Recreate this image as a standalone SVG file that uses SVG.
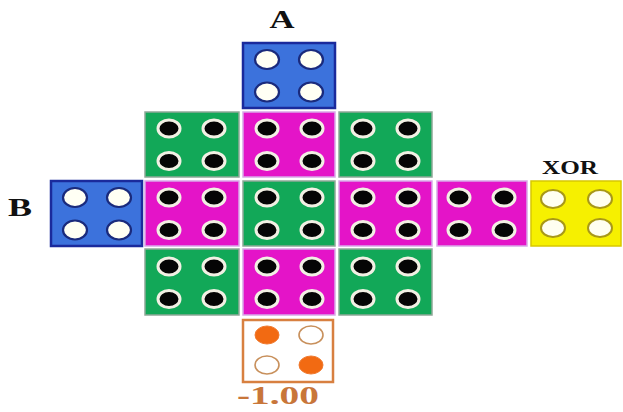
<svg xmlns="http://www.w3.org/2000/svg" xmlns:xlink="http://www.w3.org/1999/xlink" width="623" height="412" viewBox="0 0 623 412">
<style>
.green{fill:#12a858;stroke:#8fa898;stroke-width:1.5}
.mag{fill:#e414c8;stroke:#d8a8e8;stroke-width:1.5}
.blue{fill:#3c72dc;stroke:#1a2a9c;stroke-width:2.5}
.yellow{fill:#f6f000;stroke:#d8c800;stroke-width:1.5}
.orange{fill:#ffffff;stroke:#d88040;stroke-width:2.5}
.bd{fill:#050505;stroke:#f2f0e4;stroke-width:3}
.wd{fill:#fffff4;stroke:#1a2a7c;stroke-width:2.2}
.yd{fill:#fffff0;stroke:#a89818;stroke-width:2}
.of{fill:#f26a12;stroke:#f07a30;stroke-width:1}
.oo{fill:#ffffff;stroke:#c8905c;stroke-width:1.6}
.lbl{font-family:"Liberation Serif",serif;font-weight:bold;fill:#111}
</style>
<defs>
<g id="dots-black">
<ellipse class="bd" cx="24" cy="16.5" rx="11" ry="8.5"/>
<ellipse class="bd" cx="69" cy="16.5" rx="11" ry="8.5"/>
<ellipse class="bd" cx="24" cy="49" rx="11" ry="8.5"/>
<ellipse class="bd" cx="69" cy="49" rx="11" ry="8.5"/>
</g>
<g id="dots-white">
<ellipse class="wd" cx="24" cy="16.5" rx="12" ry="9.5"/>
<ellipse class="wd" cx="68" cy="16.5" rx="12" ry="9.5"/>
<ellipse class="wd" cx="24" cy="49" rx="12" ry="9.5"/>
<ellipse class="wd" cx="68" cy="49" rx="12" ry="9.5"/>
</g>
</defs>
<rect width="623" height="412" fill="#ffffff"/>

<g id="label-A"><text class="lbl" x="282" y="28" font-size="26" text-anchor="middle" textLength="25" lengthAdjust="spacingAndGlyphs">A</text></g>
<g id="label-B"><text class="lbl" x="20" y="216" font-size="26" text-anchor="middle" textLength="24" lengthAdjust="spacingAndGlyphs">B</text></g>
<g id="label-XOR"><text class="lbl" x="570" y="174" font-size="18" text-anchor="middle" textLength="56" lengthAdjust="spacingAndGlyphs">XOR</text></g>
<g id="label-out"><text x="278" y="404" font-size="26" font-family="Liberation Serif,serif" font-weight="bold" fill="#c8763a" text-anchor="middle" textLength="82" lengthAdjust="spacingAndGlyphs">-1.00</text></g>

<g id="input-A"><rect class="blue" x="243" y="43" width="92" height="65"/><use xlink:href="#dots-white" x="243" y="43"/></g>
<g id="input-B"><rect class="blue" x="51" y="181" width="91" height="65"/><use xlink:href="#dots-white" x="51" y="181"/></g>

<g id="r1c1"><rect class="green" x="145" y="112" width="94" height="65"/><use xlink:href="#dots-black" x="145" y="112"/></g>
<g id="r1c2"><rect class="mag" x="243" y="112" width="92" height="65"/><use xlink:href="#dots-black" x="243" y="112"/></g>
<g id="r1c3"><rect class="green" x="339" y="112" width="93" height="65"/><use xlink:href="#dots-black" x="339" y="112"/></g>

<g id="r2c1"><rect class="mag" x="145" y="181" width="94" height="65"/><use xlink:href="#dots-black" x="145" y="181"/></g>
<g id="r2c2"><rect class="green" x="243" y="181" width="92" height="65"/><use xlink:href="#dots-black" x="243" y="181"/></g>
<g id="r2c3"><rect class="mag" x="339" y="181" width="93" height="65"/><use xlink:href="#dots-black" x="339" y="181"/></g>
<g id="r2c4"><rect class="mag" x="437" y="181" width="90" height="65"/><use xlink:href="#dots-black" x="435" y="181"/></g>

<g id="r3c1"><rect class="green" x="145" y="249" width="94" height="66"/><use xlink:href="#dots-black" x="145" y="250"/></g>
<g id="r3c2"><rect class="mag" x="243" y="249" width="92" height="66"/><use xlink:href="#dots-black" x="243" y="250"/></g>
<g id="r3c3"><rect class="green" x="339" y="249" width="93" height="66"/><use xlink:href="#dots-black" x="339" y="250"/></g>

<g id="xor-gate"><rect class="yellow" x="531" y="181" width="90" height="65"/>
<ellipse class="yd" cx="553" cy="199" rx="12" ry="9"/>
<ellipse class="yd" cx="600" cy="199" rx="12" ry="9"/>
<ellipse class="yd" cx="553" cy="228" rx="12" ry="9"/>
<ellipse class="yd" cx="600" cy="228" rx="12" ry="9"/>
</g>

<g id="output"><rect class="orange" x="243" y="320" width="90" height="62"/>
<ellipse class="of" cx="267" cy="335" rx="12" ry="9"/>
<ellipse class="oo" cx="311" cy="335" rx="12" ry="9"/>
<ellipse class="oo" cx="267" cy="365" rx="12" ry="9"/>
<ellipse class="of" cx="311" cy="365" rx="12" ry="9"/>
</g>

<g id="connectors"></g>
</svg>
